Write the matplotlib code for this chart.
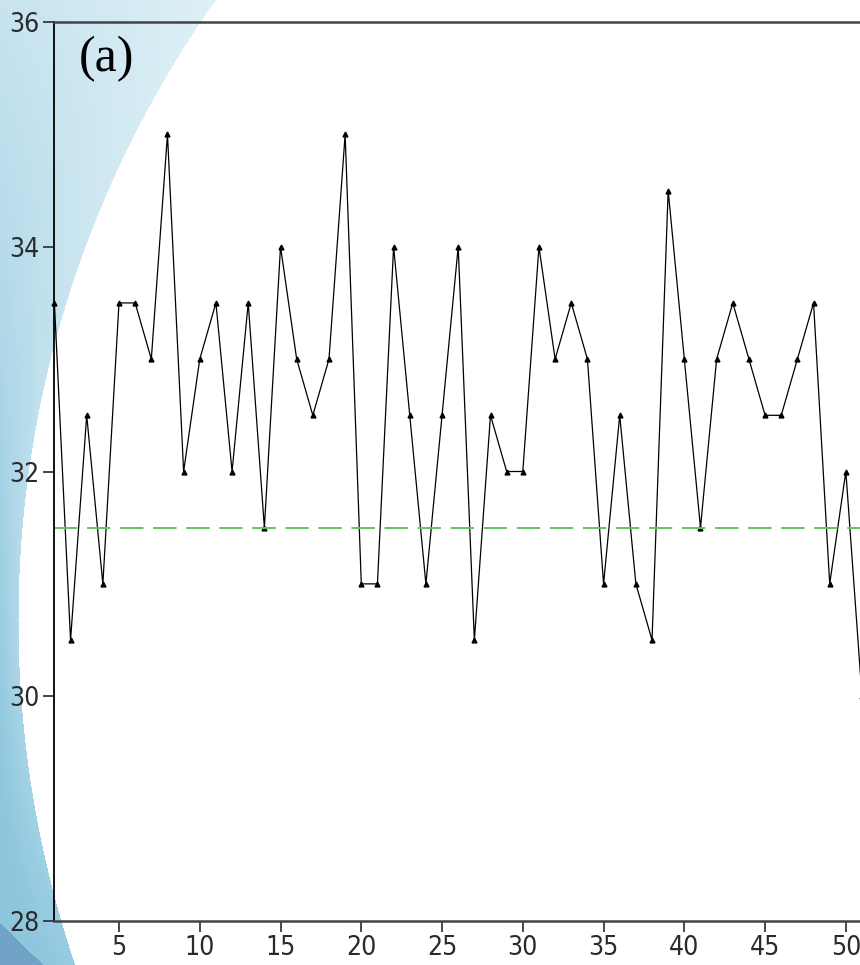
import numpy as np
import matplotlib
matplotlib.use("Agg")
import matplotlib.pyplot as plt

# sample index and measured value
x = list(range(1, 52))
y = [33.5, 30.5, 32.5, 31.0, 33.5, 33.5, 33.0, 35.0, 32.0, 33.0,
     33.5, 32.0, 33.5, 31.5, 34.0, 33.0, 32.5, 33.0, 35.0, 31.0,
     31.0, 34.0, 32.5, 31.0, 32.5, 34.0, 30.5, 32.5, 32.0, 32.0,
     34.0, 33.0, 33.5, 33.0, 31.0, 32.5, 31.0, 30.5, 34.5, 33.0,
     31.5, 33.0, 33.5, 33.0, 32.5, 32.5, 33.0, 33.5, 31.0, 32.0,
     30.0]
ref_level = 31.5
xticks = [5, 10, 15, 20, 25, 30, 35, 40, 45, 50]
yticks = [28, 30, 32, 34, 36]

W, H = 860, 965
fig = plt.figure(figsize=(W / 100, H / 100), dpi=100)

# slide style background: blue arc on the left
bg = fig.add_axes([0, 0, 1, 1])
yy, xx = np.mgrid[0:H, 0:W].astype(float)
cx, cy, r = 1092.0, 620.0, 1074.0
outside = (xx - cx) ** 2 + (yy - cy) ** 2 > r ** 2
light = np.array([0.93, 0.97, 0.985])
dark = np.array([0.56, 0.78, 0.87])
arc_x = cx - np.sqrt(np.clip(r ** 2 - (yy - cy) ** 2, 0, None))
f = 0.15 + 0.75 * yy / H + 0.25 * (1 - xx / np.maximum(arc_x, 1))
f = np.clip(f, 0, 1)[..., None]
img = np.ones((H, W, 3))
col = light * (1 - f) + dark * f
img[outside] = col[outside]
corner = yy > 923 + xx * 0.97
img[corner] = [0.44, 0.64, 0.78]
bg.imshow(img, aspect="auto", interpolation="bilinear")
bg.axis("off")

ax = fig.add_axes([54.4 / W, 44 / H, 807.6 / W, 899 / H])
ax.patch.set_alpha(0)
ax.plot(x, y, color="black", lw=0.9, marker="^", ms=3.5, clip_on=False)
ax.axhline(ref_level, color="#66c266", lw=1.4, dashes=(12, 5))

ax.set_xlim(1, 51)
ax.set_ylim(28, 36)
ax.set_xticks(xticks)
ax.set_yticks(yticks)
ax.tick_params(direction="out", length=8, width=1.2,
               labelsize=19, colors="#2a2a2a")
ax.tick_params(axis="x", pad=2)
ax.tick_params(axis="y", pad=3)
for lab in ax.get_xticklabels() + ax.get_yticklabels():
    lab.set_family("DejaVu Sans")
    lab.set_fontstretch("condensed")
    lab.set_fontweight("light")
ax.spines["left"].set_linewidth(1.3)
ax.spines["bottom"].set_linewidth(1.8)
ax.spines["bottom"].set_color("#444444")
ax.spines["top"].set_linewidth(1.8)
ax.spines["top"].set_color("#444444")
ax.spines["right"].set_visible(False)

ax.text(0.03, 0.985, "(a)", transform=ax.transAxes, ha="left", va="top",
        fontsize=36, family=["Liberation Serif", "DejaVu Serif"])

fig.savefig("out.png", dpi=100)
